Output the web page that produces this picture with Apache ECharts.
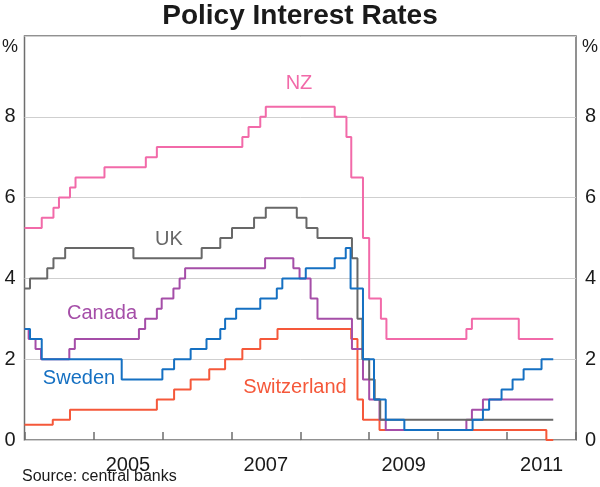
<!DOCTYPE html>
<html>
<head>
<meta charset="utf-8">
<script src="https://cdn.jsdelivr.net/npm/echarts@6/dist/echarts.min.js"></script>
<style>html,body{margin:0;padding:0;background:#fff}#c{width:600px;height:487px}</style>
</head>
<body>
<div id="c"></div>
<script>
// Decimal-year dates of each rate change and the rate from that date
var nzDates = [2004.0, 2004.25, 2004.42, 2004.50, 2004.66, 2004.74, 2005.16, 2005.76, 2005.92, 2007.16, 2007.25, 2007.42, 2007.50, 2008.50, 2008.67, 2008.74, 2008.91, 2009.00, 2009.17, 2009.25, 2010.41, 2010.49, 2011.17, 2011.67];
var nzRates = [5.25, 5.5, 5.75, 6.0, 6.25, 6.5, 6.75, 7.0, 7.25, 7.5, 7.75, 8.0, 8.25, 8.0, 7.5, 6.5, 5.0, 3.5, 3.0, 2.5, 2.75, 3.0, 2.5, 2.5];

var ukDates = [2004.0, 2004.08, 2004.33, 2004.42, 2004.59, 2005.58, 2006.57, 2006.84, 2007.01, 2007.33, 2007.50, 2007.95, 2008.09, 2008.25, 2008.75, 2008.83, 2008.90, 2009.00, 2009.08, 2009.16, 2011.67];
var ukRates = [3.75, 4.0, 4.25, 4.5, 4.75, 4.5, 4.75, 5.0, 5.25, 5.5, 5.75, 5.5, 5.25, 5.0, 4.5, 3.0, 2.0, 1.5, 1.0, 0.5, 0.5];

var caDates = [2004.0, 2004.06, 2004.16, 2004.24, 2004.65, 2004.73, 2005.66, 2005.75, 2005.92, 2005.99, 2006.16, 2006.25, 2006.33, 2007.49, 2007.90, 2007.99, 2008.15, 2008.25, 2008.75, 2008.91, 2009.00, 2009.15, 2009.24, 2010.41, 2010.49, 2010.65, 2011.67];
var caRates = [2.75, 2.5, 2.25, 2.0, 2.25, 2.5, 2.75, 3.0, 3.25, 3.5, 3.75, 4.0, 4.25, 4.5, 4.25, 4.0, 3.5, 3.0, 2.25, 1.5, 1.0, 0.5, 0.25, 0.5, 0.75, 1.0, 1.0];

var seDates = [2004.0, 2004.08, 2004.25, 2005.41, 2006.0, 2006.17, 2006.41, 2006.64, 2006.84, 2006.91, 2007.07, 2007.42, 2007.66, 2007.74, 2008.08, 2008.50, 2008.66, 2008.73, 2008.91, 2009.07, 2009.24, 2009.51, 2010.50, 2010.65, 2010.74, 2010.92, 2011.08, 2011.24, 2011.50, 2011.67];
var seRates = [2.75, 2.5, 2.0, 1.5, 1.75, 2.0, 2.25, 2.5, 2.75, 3.0, 3.25, 3.5, 3.75, 4.0, 4.25, 4.5, 4.75, 3.75, 2.0, 1.0, 0.5, 0.25, 0.5, 0.75, 1.0, 1.25, 1.5, 1.75, 2.0, 2.0];

var chDates = [2004.0, 2004.41, 2004.66, 2005.92, 2006.17, 2006.41, 2006.68, 2006.91, 2007.16, 2007.42, 2007.67, 2008.74, 2008.83, 2008.91, 2009.15, 2011.57, 2011.67];
var chRates = [0.375, 0.5, 0.75, 1.0, 1.25, 1.5, 1.75, 2.0, 2.25, 2.5, 2.75, 2.5, 1.0, 0.5, 0.25, 0.0, 0.0];

var yTicks = [0, 2, 4, 6, 8, 10];
var yearLabels = [2005, 2007, 2009, 2011];

function pairs(d, v) { return d.map(function (t, i) { return [t, v[i]]; }); }

var FONT = '"Liberation Sans", Arial, sans-serif';
var labelStyle = { fontFamily: FONT, fontSize: 20, color: '#1a1a1a' };

function yLabel(v) { return v === 10 ? '' : String(v); }

function line(name, d, v, color) {
  return {
    name: name, type: 'line', step: 'end', xAxisIndex: 0, yAxisIndex: 0,
    data: pairs(d, v), showSymbol: false, symbol: 'none',
    lineStyle: { color: color, width: 2 }, z: 3
  };
}

var chart = echarts.init(document.getElementById('c'), null, { renderer: 'canvas' });
chart.setOption({
  animation: false,
  backgroundColor: '#fff',
  title: {
    text: 'Policy Interest Rates', left: 'center', top: -3,
    textStyle: { fontFamily: FONT, fontSize: 28, fontWeight: 'bold', color: '#1a1a1a' }
  },
  grid: { left: 24.5, right: 24, top: 36, bottom: 47, containLabel: false, outerBoundsMode: 'none',
          show: true, borderColor: '#6e6e6e', borderWidth: 1.5 },
  xAxis: [
    { type: 'value', min: 2004, max: 2012, interval: 1,
      axisLine: { show: false }, splitLine: { show: false },
      axisTick: { show: true, inside: true, length: 8, lineStyle: { color: '#6e6e6e', width: 1.5 } },
      axisLabel: { show: false } },
    { type: 'value', min: 2004, max: 2012, interval: 0.5, position: 'bottom',
      axisLine: { show: false }, axisTick: { show: false }, splitLine: { show: false },
      axisLabel: Object.assign({ margin: 15, formatter: function (v) {
        var y = Math.floor(v);
        return (Math.abs(v - y - 0.5) < 1e-6 && yearLabels.indexOf(y) >= 0) ? String(y) : '';
      } }, labelStyle) }
  ],
  yAxis: [
    { type: 'value', min: 0, max: 10, interval: 2, position: 'left',
      axisLine: { show: false }, axisTick: { show: false },
      splitLine: { show: true, lineStyle: { color: '#cfcfcf', width: 1 } },
      axisLabel: Object.assign({ margin: 9, formatter: yLabel }, labelStyle) },
    { type: 'value', min: 0, max: 10, interval: 2, position: 'right',
      axisLine: { show: false }, axisTick: { show: false }, splitLine: { show: false },
      axisLabel: Object.assign({ margin: 9, formatter: yLabel }, labelStyle) }
  ],
  series: [
    line('Switzerland', chDates, chRates, '#f5583a'),
    line('Canada', caDates, caRates, '#a54ea8'),
    line('UK', ukDates, ukRates, '#686868'),
    line('NZ', nzDates, nzRates, '#f26aa9'),
    line('Sweden', seDates, seRates, '#1570c2')
  ],
  graphic: [
    { type: 'text', x: 10, y: 47, style: { text: '%', fill: '#1a1a1a', font: '18px ' + FONT, textAlign: 'center', textVerticalAlign: 'middle' } },
    { type: 'text', x: 590, y: 47, style: { text: '%', fill: '#1a1a1a', font: '18px ' + FONT, textAlign: 'center', textVerticalAlign: 'middle' } },
    { type: 'text', x: 299, y: 83, style: { text: 'NZ', fill: '#f26aa9', font: '20px ' + FONT, textAlign: 'center', textVerticalAlign: 'middle' } },
    { type: 'text', x: 169, y: 239, style: { text: 'UK', fill: '#686868', font: '20px ' + FONT, textAlign: 'center', textVerticalAlign: 'middle' } },
    { type: 'text', x: 102, y: 313, style: { text: 'Canada', fill: '#a54ea8', font: '20px ' + FONT, textAlign: 'center', textVerticalAlign: 'middle' } },
    { type: 'text', x: 79, y: 378, style: { text: 'Sweden', fill: '#1570c2', font: '20px ' + FONT, textAlign: 'center', textVerticalAlign: 'middle' } },
    { type: 'text', x: 295, y: 387, style: { text: 'Switzerland', fill: '#f5583a', font: '20px ' + FONT, textAlign: 'center', textVerticalAlign: 'middle' } },
    { type: 'text', x: 22, y: 477, style: { text: 'Source: central banks', fill: '#1a1a1a', font: '16px ' + FONT, textAlign: 'left', textVerticalAlign: 'middle' } }
  ]
});
</script>
</body>
</html>
